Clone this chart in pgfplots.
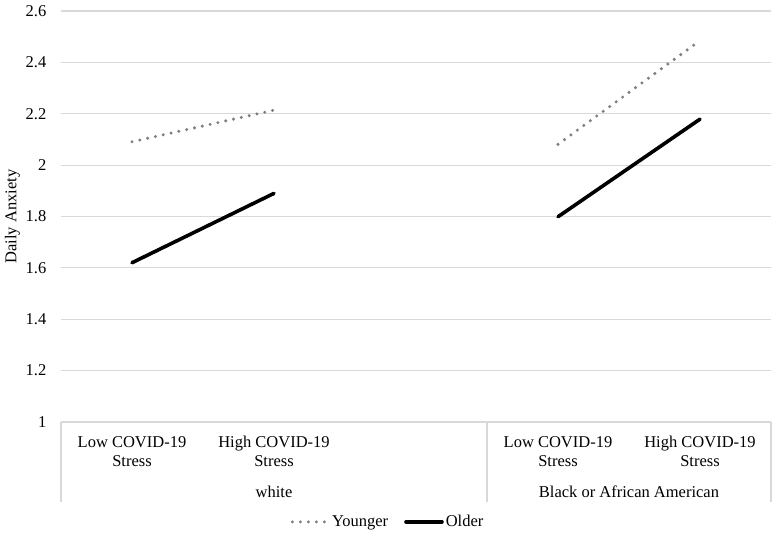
\documentclass[border=0pt]{standalone}
\usepackage{fontspec}
\setmainfont{Liberation Serif}
\usepackage{pgfplots}
\pgfplotsset{compat=1.18}
\definecolor{gridc}{RGB}{217,217,217}
\definecolor{youngc}{RGB}{128,128,128}
\newcommand{\cf}{\fontsize{16.5bp}{19bp}\selectfont}
\begin{document}
\begin{tikzpicture}[font=\cf]
\path[use as bounding box] (-61bp,-115bp) rectangle (715bp,422bp);
\begin{axis}[
  at={(0,0)}, anchor=south west,
  scale only axis, width=710bp, height=411bp,
  xmin=-0.5, xmax=4.5, ymin=1, ymax=2.6,
  clip=false,
  axis line style={draw=none},
  major tick length=0pt,
  /pgf/number format/assume math mode=true,
  tick label style={font=\cf},
  label style={font=\cf},
  ytick={1,1.2,1.4,1.6,1.8,2,2.2,2.4,2.6},
  yticklabels={1,1.2,1.4,1.6,1.8,2,2.2,2.4,2.6},
  ymajorgrids,
  grid style={gridc, line width=1.1bp},
  yticklabel style={inner sep=0pt, anchor=east, xshift=-14.5bp},
  xtick={0,1,3,4},
  xticklabels={Low COVID-19\\Stress, High COVID-19\\Stress, Low COVID-19\\Stress, High COVID-19\\Stress},
  xticklabel style={align=center, inner sep=0pt, anchor=north, yshift=-14bp},
  ylabel={Daily Anxiety},
  ylabel style={at={(axis description cs:-0.0683,0.5)}, anchor=center, inner sep=0pt},
  unbounded coords=jump,
  legend columns=2,
  legend style={draw=none, fill=none, at={(0.4606,-0.243)}, anchor=center,
    font=\cf,
    /tikz/every even column/.append style={column sep=14bp}},
  legend image code/.code={\draw[#1] (0bp,0bp) -- (36bp,0bp);},
]
\addplot[youngc, line width=3.4bp, line cap=round, dash pattern=on 0bp off 8bp]
  coordinates {(0,2.091) (1,2.214) (2,nan) (3,2.081) (4,2.485)};
\addlegendentry{Younger}
\addplot[black, line width=3.6bp, line cap=round]
  coordinates {(0,1.620) (1,1.890) (2,nan) (3,1.799) (4,2.179)};
\addlegendentry{Older}
\draw[gridc, line width=1.1bp] (axis cs:-0.5,1) -- ([yshift=-80bp]axis cs:-0.5,1);
\draw[gridc, line width=1.1bp] (axis cs:2.5,1) -- ([yshift=-80bp]axis cs:2.5,1);
\draw[gridc, line width=1.1bp] (axis cs:4.5,1) -- ([yshift=-80bp]axis cs:4.5,1);
\node[anchor=base, inner sep=0pt] at ([yshift=-75bp]axis cs:1,1) {white};
\node[anchor=base, inner sep=0pt] at ([yshift=-75bp]axis cs:3.5,1) {Black or African American};
\end{axis}
\end{tikzpicture}
\end{document}
